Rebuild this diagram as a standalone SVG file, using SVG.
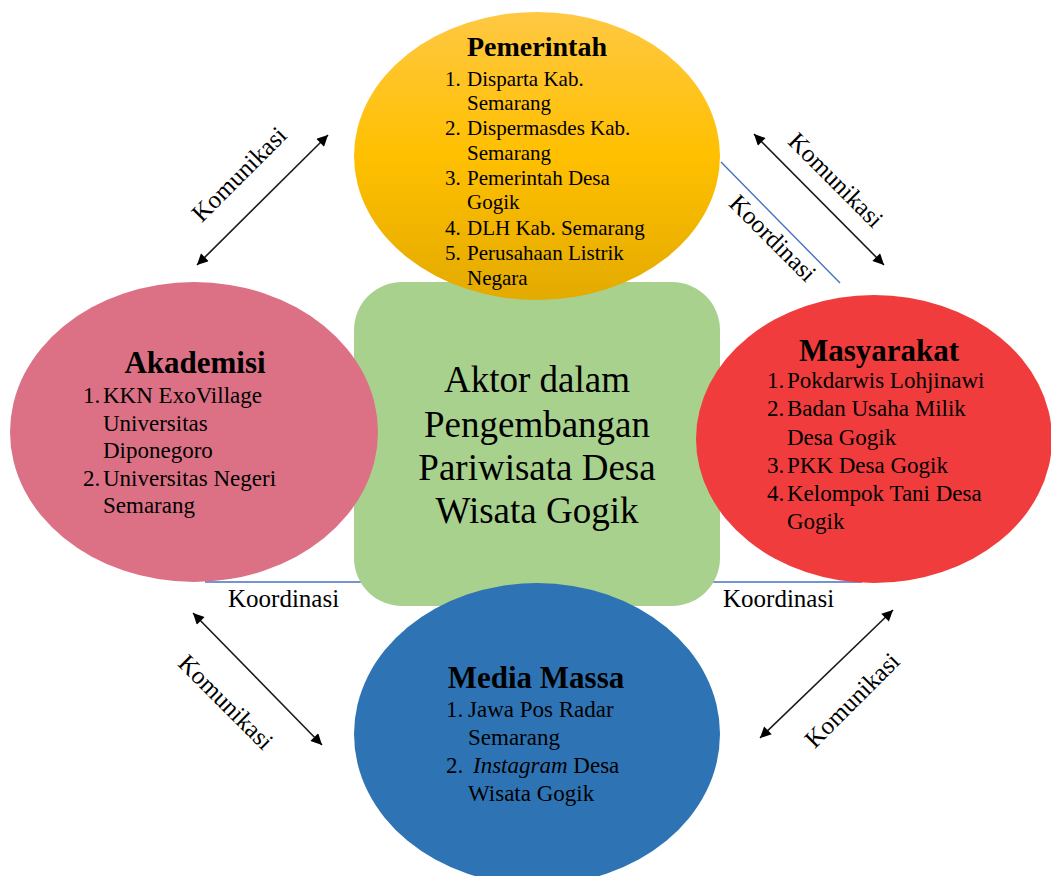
<svg xmlns="http://www.w3.org/2000/svg" width="1051" height="876" viewBox="0 0 1051 876" font-family="'Liberation Serif','Times New Roman',serif">
<style>
text{font-family:"Liberation Serif","Times New Roman",serif;fill:#000}
.t{font-weight:bold}
.it{font-size:21px}
.i2{font-size:23px}
.lbl{font-size:25px}
.ctr{font-size:37px;font-family:"Liberation Serif","Times New Roman",serif}
.arr{stroke:#1a1a1a;stroke-width:1.6;fill:none}
.blu{stroke:#4472C4;stroke-width:1.4;fill:none}
</style>
<defs>
<marker id="ah" viewBox="0 0 10 10" refX="10" refY="5" markerUnits="userSpaceOnUse" markerWidth="15" markerHeight="11" orient="auto-start-reverse">
<path d="M0,0 L10,5 L0,10 z" fill="#000"/>
</marker>
<linearGradient id="gold" x1="0" y1="0" x2="0" y2="1">
<stop offset="0" stop-color="#FFC843"/>
<stop offset="0.5" stop-color="#FFC000"/>
<stop offset="1" stop-color="#E3AA00"/>
</linearGradient>
</defs>
<rect width="1051" height="876" fill="#fff"/>
<g id="connectors">
<line class="blu" x1="721" y1="162" x2="840" y2="283"/>
<line class="blu" x1="205" y1="582" x2="362" y2="582"/>
<line class="blu" x1="712" y1="582" x2="862" y2="582"/>
<line class="arr" x1="197" y1="265" x2="328" y2="135" marker-start="url(#ah)" marker-end="url(#ah)"/>
<line class="arr" x1="754" y1="134" x2="884" y2="265" marker-start="url(#ah)" marker-end="url(#ah)"/>
<line class="arr" x1="193" y1="613" x2="322" y2="745" marker-start="url(#ah)" marker-end="url(#ah)"/>
<line class="arr" x1="893" y1="610" x2="760" y2="738" marker-start="url(#ah)" marker-end="url(#ah)"/>
<text class="lbl" x="245" y="180" text-anchor="middle" transform="rotate(-45 245 180)">Komunikasi</text>
<text class="lbl" x="830" y="186" text-anchor="middle" transform="rotate(45 830 186)">Komunikasi</text>
<text class="lbl" x="767" y="244" text-anchor="middle" transform="rotate(45 767 244)">Koordinasi</text>
<text class="lbl" x="220" y="708" text-anchor="middle" transform="rotate(45 220 708)">Komunikasi</text>
<text class="lbl" x="858" y="706" text-anchor="middle" transform="rotate(-45 858 706)">Komunikasi</text>
<text class="lbl" x="228" y="607">Koordinasi</text>
<text class="lbl" x="723" y="607">Koordinasi</text>
</g>
<g id="aktor">
<rect x="354" y="282" width="366" height="324" rx="48" fill="#A9D18E"/>
<text class="ctr" x="537" y="392" text-anchor="middle">Aktor dalam</text>
<text class="ctr" x="537" y="437" text-anchor="middle">Pengembangan</text>
<text class="ctr" x="537" y="480" text-anchor="middle">Pariwisata Desa</text>
<text class="ctr" x="537" y="523" text-anchor="middle">Wisata Gogik</text>
</g>
<g id="pemerintah">
<ellipse cx="537" cy="156" rx="183" ry="144" fill="url(#gold)"/>
<text class="t" x="537" y="56" font-size="28" text-anchor="middle">Pemerintah</text>
<g class="it">
<text x="445" y="86">1.</text><text x="467" y="86">Disparta Kab.</text>
<text x="467" y="110">Semarang</text>
<text x="445" y="135">2.</text><text x="467" y="135">Dispermasdes Kab.</text>
<text x="467" y="160">Semarang</text>
<text x="445" y="185">3.</text><text x="467" y="185">Pemerintah Desa</text>
<text x="467" y="209">Gogik</text>
<text x="445" y="235">4.</text><text x="467" y="235">DLH Kab. Semarang</text>
<text x="445" y="260">5.</text><text x="467" y="260">Perusahaan Listrik</text>
<text x="467" y="285">Negara</text>
</g>
</g>
<g id="akademisi">
<ellipse cx="194" cy="432" rx="184" ry="150" fill="#DC7186"/>
<text class="t" x="195" y="373" font-size="31" text-anchor="middle">Akademisi</text>
<g class="i2">
<text x="83" y="403">1.</text><text x="103" y="403">KKN ExoVillage</text>
<text x="103" y="431">Universitas</text>
<text x="103" y="458">Diponegoro</text>
<text x="83" y="486">2.</text><text x="103" y="486">Universitas Negeri</text>
<text x="103" y="513">Semarang</text>
</g>
</g>
<g id="masyarakat">
<ellipse cx="874" cy="439" rx="178" ry="144" fill="#F03C3C"/>
<text class="t" x="879" y="361" font-size="31" text-anchor="middle">Masyarakat</text>
<g class="i2">
<text x="767" y="388">1.</text><text x="787" y="388">Pokdarwis Lohjinawi</text>
<text x="767" y="416">2.</text><text x="787" y="416">Badan Usaha Milik</text>
<text x="787" y="445">Desa Gogik</text>
<text x="767" y="473">3.</text><text x="787" y="473">PKK Desa Gogik</text>
<text x="767" y="501">4.</text><text x="787" y="501">Kelompok Tani Desa</text>
<text x="787" y="529">Gogik</text>
</g>
</g>
<g id="media-massa">
<ellipse cx="537" cy="734" rx="183" ry="151" fill="#2E74B5"/>
<text class="t" x="536" y="688" font-size="31" text-anchor="middle">Media Massa</text>
<g class="i2">
<text x="446" y="717">1.</text><text x="468" y="717">Jawa Pos Radar</text>
<text x="468" y="745">Semarang</text>
<text x="446" y="773">2.</text><text x="473" y="773"><tspan font-style="italic">Instagram</tspan> Desa</text>
<text x="468" y="801">Wisata Gogik</text>
</g>
</g>
</svg>
